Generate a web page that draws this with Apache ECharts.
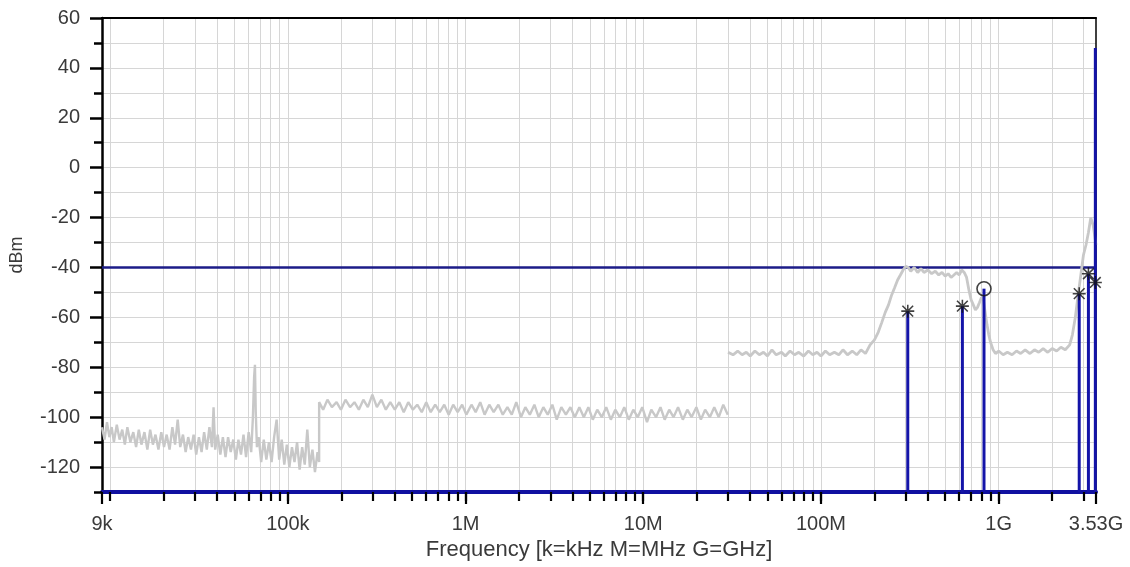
<!DOCTYPE html>
<html>
<head>
<meta charset="utf-8">
<title>Spectrum</title>
<script src="https://cdn.jsdelivr.net/npm/echarts@6/dist/echarts.min.js"></script>
<style>
  html, body { margin: 0; padding: 0; background: #ffffff; }
  #chart { width: 1130px; height: 567px; }
</style>
</head>
<body>
<div id="chart"></div>
<script>
// Frequency axis (Hz) and level axis (dBm) limits
const freqMin = 9e3;
const freqMax = 3.53e9;
const levelMin = -130;
const levelMax = 60;

// Labelled frequency ticks
const xTickValues = [9e3, 1e5, 1e6, 1e7, 1e8, 1e9, 3.53e9];
const xTickLabels = ['9k', '100k', '1M', '10M', '100M', '1G', '3.53G'];

// Level ticks
const yTickValues = [-120, -100, -80, -60, -40, -20, 0, 20, 40, 60];
const yGridValues = [-130, -120, -110, -100, -90, -80, -70, -60, -50, -40, -30, -20, -10, 0, 10, 20, 30, 40, 50, 60];

// Limit line level (dBm)
const limitLevel = -40;

// Sweep, 9 kHz - 30 MHz  [kHz, dBm]
const sweepLow = [
  [9, -104], [9.3, -109], [9.6, -102], [9.9, -108], [10.2, -104], [10.5, -110], [10.9, -103], [11.3, -109],
  [11.7, -105], [12.1, -111], [12.5, -104], [13, -110], [13.5, -106], [14, -112], [14.5, -105], [15, -111],
  [15.6, -106], [16.2, -113], [16.8, -105], [17.4, -111], [18, -107], [18.7, -113], [19.4, -106], [20.1, -112],
  [20.8, -107], [21.6, -113], [22.4, -104], [23.2, -111], [24, -101], [24.8, -112], [25.7, -107], [26.6, -114],
  [27.5, -108], [28.5, -113], [29.5, -107], [30.5, -115], [31.6, -108], [32.7, -114], [33.8, -106], [35, -113],
  [36.2, -104], [37.4, -112], [38.2, -96], [39, -113], [40.3, -107], [41.7, -115], [43.1, -108], [44.6, -116],
  [46.1, -108], [47.7, -114], [49.3, -109], [51, -117], [52.7, -109], [54.5, -115], [56.3, -107], [58.2, -116],
  [60.2, -106], [62.2, -114], [63.6, -100], [64.6, -84], [65.3, -79], [66, -98], [67, -112], [68.5, -108],
  [70.8, -118], [73.2, -109], [75.7, -117], [78.3, -110], [81, -118], [83.7, -108], [86.5, -101], [89.4, -117],
  [92.4, -109], [95.5, -119], [98.7, -111], [102, -120], [105.5, -112], [109, -118], [112.7, -110], [116.5, -121],
  [120.4, -112], [124.5, -119], [128.7, -105], [133, -120], [137.5, -113], [142.1, -122], [146.9, -114], [150, -118],
  [150, -94], [158, -97], [167, -93], [177, -96], [188, -94], [199, -97], [211, -93], [224, -96],
  [237, -94], [251, -97], [266, -93], [282, -96], [299, -91], [317, -96], [336, -93], [356, -97],
  [377, -94], [400, -97], [424, -94], [449, -98], [476, -94], [505, -97], [535, -95], [567, -98],
  [601, -94], [637, -98], [675, -95], [716, -98], [759, -95], [804, -99], [852, -95], [903, -98],
  [957, -95], [1010, -99], [1080, -95], [1140, -98], [1210, -94], [1280, -99], [1360, -95], [1440, -98],
  [1530, -95], [1620, -99], [1720, -96], [1820, -99], [1930, -94], [2050, -100], [2170, -96], [2300, -99],
  [2440, -95], [2580, -100], [2740, -96], [2900, -99], [3080, -95], [3260, -101], [3460, -96], [3670, -99],
  [3890, -96], [4120, -100], [4370, -96], [4630, -100], [4910, -96], [5200, -101], [5510, -97], [5840, -100],
  [6190, -96], [6570, -101], [6960, -97], [7380, -100], [7820, -96], [8290, -101], [8790, -97], [9310, -100],
  [9870, -96], [10500, -102], [11100, -97], [11800, -100], [12500, -96], [13200, -101], [14000, -97], [14800, -100],
  [15700, -96], [16700, -101], [17700, -97], [18700, -100], [19900, -96], [21100, -101], [22300, -97], [23700, -100],
  [25100, -96], [26600, -100], [28200, -95], [29900, -99]
];

// Sweep, 30 MHz - 3.53 GHz  [MHz, dBm]
const sweepHigh = [
  [30, -74], [32, -75], [34, -73.5], [36, -75], [38, -74], [40, -75.5], [42.5, -73.5], [45, -75],
  [47.5, -74], [50, -75.5], [53, -73], [56, -75], [60, -74], [63, -75.5], [67, -73.5], [71, -75],
  [75, -74], [80, -75.5], [85, -73.5], [90, -75], [95, -74], [100, -75.5], [106, -73.5], [112, -75],
  [119, -74], [126, -75], [133, -73], [141, -75], [150, -73.5], [159, -75], [168, -73], [178, -74.5],
  [189, -71], [200, -69], [210, -66], [220, -62], [230, -58], [240, -55], [250, -51], [260, -48],
  [270, -45], [280, -43], [290, -41], [300, -39.5], [310, -40], [320, -41.5], [335, -40], [350, -42],
  [365, -40.5], [380, -42], [400, -41], [420, -42.5], [440, -41.5], [460, -43], [480, -42], [500, -43.5],
  [520, -42.5], [540, -44], [560, -43], [580, -42], [600, -43], [620, -41], [640, -42], [660, -44],
  [680, -49], [700, -53], [720, -55], [740, -57], [760, -56], [780, -54], [800, -52], [820, -53],
  [840, -58], [860, -63], [880, -67], [900, -70], [930, -73], [960, -74.5], [1000, -73.5], [1060, -75],
  [1120, -74], [1190, -75], [1260, -73.5], [1330, -74.5], [1410, -73], [1500, -74.5], [1590, -73], [1680, -74],
  [1780, -72.5], [1890, -74], [2000, -72.5], [2120, -73.5], [2240, -72], [2370, -73], [2510, -71], [2600, -67],
  [2700, -60], [2800, -51], [2900, -43], [3000, -35], [3100, -31], [3200, -26], [3300, -20], [3400, -23],
  [3500, -29], [3530, -31]
];

// Measured peaks: frequency (Hz) and level (dBm)
const peakFreqs  = [308e6, 625e6, 827e6, 2.84e9, 3.2e9, 3.5e9];
const peakLevels = [-57.5, -55.5, -48.5, -50.5, -42.5, 48];

// Peak markers (asterisks) and the highlighted peak (circle)
const starMarks = [[308e6, -57.5], [625e6, -55.5], [2.84e9, -50.5], [3.2e9, -42.5], [3.5e9, -46]];
const circleMarks = [[827e6, -48.5]];

// Minor frequency grid: 1..9 per decade, plus 2G and 3G
const xGridValues = [];
for (let d = 1e4; d <= 1e9; d *= 10) {
  for (let m = 1; m <= 9; m++) {
    const v = m * d;
    if (v <= freqMax) xGridValues.push(v);
  }
}

const font = 'Liberation Sans, Arial, sans-serif';
const textColor = '#3a3a3a';
const gridColor = '#d6d6d6';
const traceColor = '#c8c8c8';
const markerBlue = '#1414a8';
const limitBlue = '#1c1c88';

function freqLabel(v) {
  for (let i = 0; i < xTickValues.length; i++) {
    if (Math.abs(v / xTickValues[i] - 1) < 0.01) return xTickLabels[i];
  }
  return '';
}

const starPath = 'path://M8.8,0H11.2V20H8.8Z M0,8.8H20V11.2H0Z ' +
  'M2.6,0.9L19.1,17.4L17.4,19.1L0.9,2.6Z M17.4,0.9L19.1,2.6L2.6,19.1L0.9,17.4Z';

const chart = echarts.init(document.getElementById('chart'), null, { renderer: 'canvas' });

chart.setOption({
  animation: false,
  backgroundColor: '#ffffff',
  grid: { left: 100, right: 34, top: 18, bottom: 75, containLabel: false },
  xAxis: [
    {
      type: 'log', logBase: 10, min: freqMin, max: freqMax, position: 'bottom',
      axisLine: { show: true, onZero: false, lineStyle: { color: '#1010a0', width: 4 } },
      axisTick: { show: true, customValues: xTickValues, length: 12, lineStyle: { color: '#000', width: 2.2 } },
      axisLabel: {
        show: true, customValues: xTickValues, formatter: freqLabel, margin: 22,
        fontSize: 20, fontFamily: font, color: textColor
      },
      splitLine: { show: false }, minorTick: { show: false }, minorSplitLine: { show: false },
      name: 'Frequency [k=kHz M=MHz G=GHz]', nameLocation: 'middle', nameGap: 45,
      nameTextStyle: { fontSize: 22, fontFamily: font, color: textColor }
    },
    {
      type: 'log', logBase: 10, min: freqMin, max: freqMax, position: 'bottom',
      axisLine: { show: false, onZero: false },
      axisTick: { show: true, customValues: xGridValues, length: 9, lineStyle: { color: '#000', width: 2.2 } },
      axisLabel: { show: false },
      splitLine: { show: true, lineStyle: { color: gridColor, width: 1 } }
    },
    {
      type: 'log', logBase: 10, min: freqMin, max: freqMax, position: 'top',
      axisLine: { show: true, onZero: false, lineStyle: { color: '#000', width: 2 } },
      axisTick: { show: false }, axisLabel: { show: false }, splitLine: { show: false }
    }
  ],
  yAxis: [
    {
      type: 'value', min: levelMin, max: levelMax, position: 'left',
      axisLine: { show: true, onZero: false, lineStyle: { color: '#000', width: 2.5 } },
      axisTick: { show: true, customValues: yTickValues, length: 12, lineStyle: { color: '#000', width: 2.5 } },
      axisLabel: {
        show: true, customValues: yTickValues, margin: 22,
        fontSize: 20, fontFamily: font, color: textColor
      },
      splitLine: { show: false },
      name: 'dBm', nameLocation: 'middle', nameGap: 76,
      nameTextStyle: { fontSize: 18, fontFamily: font, color: textColor }
    },
    {
      type: 'value', min: levelMin, max: levelMax, position: 'left',
      axisLine: { show: false, onZero: false },
      axisTick: { show: true, customValues: yGridValues, length: 8, lineStyle: { color: '#000', width: 2.5 } },
      axisLabel: { show: false },
      splitLine: { show: true, lineStyle: { color: gridColor, width: 1 } }
    },
    {
      type: 'value', min: levelMin, max: levelMax, position: 'right',
      axisLine: { show: true, onZero: false, lineStyle: { color: '#000', width: 1.5 } },
      axisTick: { show: false }, axisLabel: { show: false }, splitLine: { show: false }
    }
  ],
  series: [
    {
      name: 'Limit', type: 'line', xAxisIndex: 0, yAxisIndex: 0, z: 2,
      data: [[freqMin, limitLevel], [freqMax, limitLevel]],
      symbol: 'none', lineStyle: { color: limitBlue, width: 2.5 }
    },
    {
      name: 'Sweep 9k-30M', type: 'line', xAxisIndex: 0, yAxisIndex: 0, z: 3,
      data: sweepLow.map(p => [p[0] * 1e3, p[1]]),
      symbol: 'none', lineStyle: { color: traceColor, width: 2.4 }
    },
    {
      name: 'Sweep 30M-3.53G', type: 'line', xAxisIndex: 0, yAxisIndex: 0, z: 3,
      data: sweepHigh.map(p => [p[0] * 1e6, p[1]]),
      symbol: 'none', lineStyle: { color: traceColor, width: 2.8 }
    },
    {
      name: 'Peaks', type: 'custom', xAxisIndex: 0, yAxisIndex: 0, z: 4,
      data: peakFreqs.map((f, i) => [f, peakLevels[i]]),
      encode: { x: 0, y: 1 },
      renderItem: function (params, api) {
        const top = api.coord([api.value(0), api.value(1)]);
        const base = api.coord([api.value(0), levelMin]);
        return {
          type: 'line',
          shape: { x1: top[0], y1: top[1], x2: base[0], y2: base[1] },
          style: { stroke: markerBlue, lineWidth: 3 }
        };
      }
    },
    {
      name: 'Markers', type: 'scatter', xAxisIndex: 0, yAxisIndex: 0, z: 5,
      data: starMarks, symbol: starPath, symbolSize: 13,
      itemStyle: { color: '#111111' }
    },
    {
      name: 'Selected', type: 'scatter', xAxisIndex: 0, yAxisIndex: 0, z: 5,
      data: circleMarks, symbol: 'circle', symbolSize: 14,
      itemStyle: { color: 'rgba(255,255,255,0)', borderColor: '#111111', borderWidth: 1.6 }
    }
  ]
});
</script>
</body>
</html>
